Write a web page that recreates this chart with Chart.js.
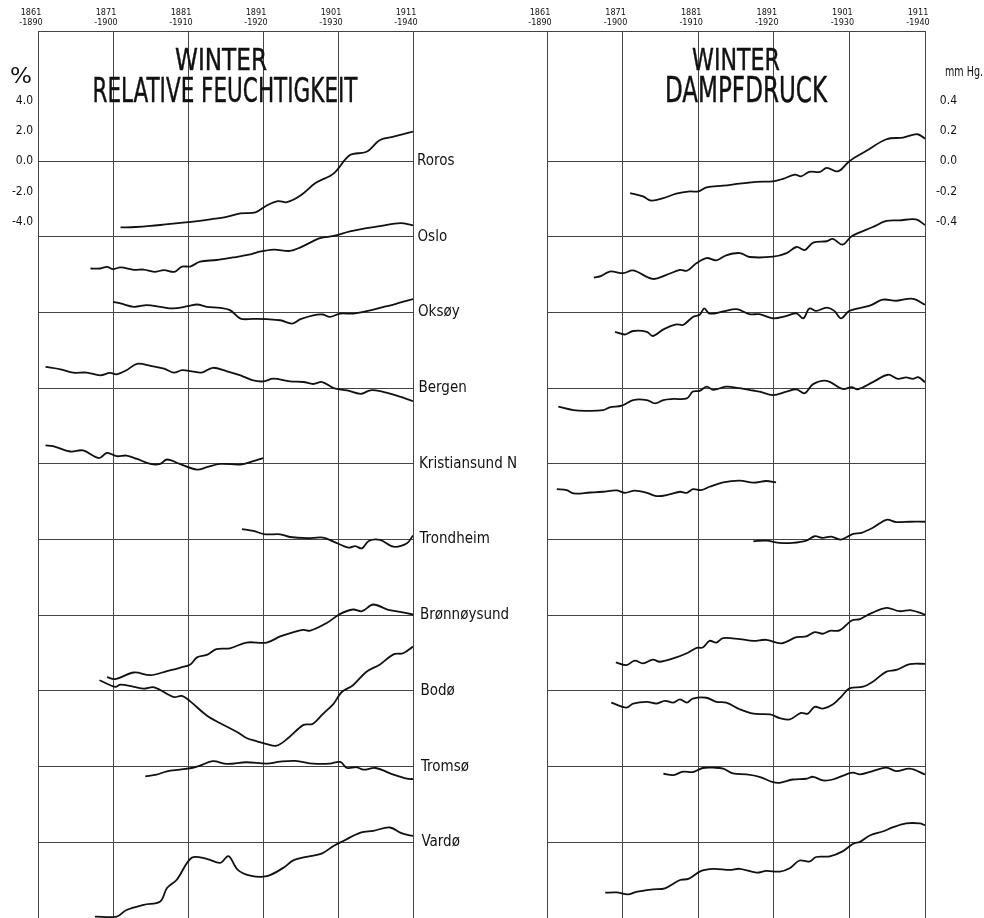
<!DOCTYPE html>
<html>
<head>
<meta charset="utf-8">
<script src="https://cdn.jsdelivr.net/npm/chart.js@4.4.0/dist/chart.umd.min.js"></script>
<style>
  body { margin: 0; background: #fff; }
  #wrap { position: relative; width: 984px; height: 918px; }
  #humChart { position: absolute; left: 0; top: 0; }
  #vapChart { position: absolute; left: 505px; top: 0; }
</style>
</head>
<body>
<div id="wrap">
  <canvas id="humChart" width="545" height="918"></canvas>
  <canvas id="vapChart" width="479" height="918"></canvas>
</div>
<script>
// 30-year running means, first year of each period on the x axis
var periods = [1861, 1871, 1881, 1891, 1901, 1911];
var stations = ['Roros', 'Oslo', 'Oksøy', 'Bergen', 'Kristiansund N', 'Trondheim', 'Brønnøysund', 'Bodø', 'Tromsø', 'Vardø'];
var humTicks = [4, 2, 0, -2, -4];
var vapTicks = [0.4, 0.2, 0, -0.2, -0.4];

// relative humidity deviations (%), [year, value]
var rorosHum = [[1872,-4.38],[1874,-4.35],[1876,-4.28],[1878,-4.18],[1880,-4.08],[1882,-3.98],[1884,-3.84],[1886,-3.7],[1888,-3.45],[1890,-3.38],[1891.5,-2.93],[1893,-2.64],[1894.2,-2.71],[1896,-2.27],[1898,-1.45],[1900.4,-0.82],[1902.6,0.4],[1904.8,0.62],[1906.6,1.4],[1908.4,1.62],[1911,1.95]];
var osloHum = [[1868,-2.09],[1869.3,-2.09],[1870.2,-1.98],[1871,-2.13],[1872,-2.02],[1873.8,-2.18],[1875.1,-2.16],[1876.5,-2.31],[1877.8,-2.2],[1879.2,-2.31],[1880.2,-1.96],[1881.3,-1.96],[1882.6,-1.64],[1884.8,-1.53],[1887,-1.36],[1889.3,-1.16],[1890.2,-1.02],[1892.4,-0.84],[1894.6,-0.93],[1896,-0.69],[1898.6,-0.09],[1900.4,0.06],[1902.6,0.36],[1904.8,0.58],[1906.6,0.71],[1909.3,0.91],[1911,0.76]];
var oksoyHum = [[1871,0.71],[1872,0.6],[1873.8,0.38],[1875.5,0.49],[1877.3,0.38],[1879,0.27],[1881,0.42],[1882.2,0.53],[1883.5,0.38],[1885.3,0.31],[1886.6,0.16],[1888,-0.4],[1889.7,-0.42],[1891.5,-0.44],[1893.3,-0.51],[1894.9,-0.73],[1896,-0.44],[1897.7,-0.18],[1899,-0.13],[1899.9,-0.29],[1901.3,-0.07],[1903,-0.07],[1904.8,0.09],[1906.6,0.31],[1908.4,0.53],[1911,0.89]];
var bergenHum = [[1862,1.41],[1864,1.25],[1865.7,1.03],[1867.5,1.03],[1869.3,0.85],[1870.6,1.01],[1871.5,0.92],[1872.8,1.19],[1874.2,1.61],[1876,1.48],[1877.8,1.3],[1879.1,1.03],[1880.2,1.19],[1881.5,1.12],[1882.8,1.03],[1884.3,1.35],[1886.2,1.12],[1888,0.85],[1889.7,0.52],[1891,0.45],[1892.4,0.63],[1894.6,0.45],[1896.4,0.41],[1897.7,0.28],[1898.9,0.41],[1900.4,0.01],[1902.2,-0.14],[1904,-0.37],[1905.3,-0.14],[1906.6,-0.19],[1908.4,-0.43],[1911,-0.85]];
var kristHum = [[1862,1.22],[1863,1.18],[1865.3,0.82],[1867,0.89],[1869.1,0.38],[1870.2,0.73],[1871.5,0.51],[1872.8,0.55],[1874.2,0.33],[1876,0],[1877.3,0],[1878.2,0.29],[1879.9,0],[1882.2,-0.38],[1883.5,-0.22],[1885.3,0],[1888,-0.04],[1889.7,0.18],[1891,0.38]];
var trondHum = [[1888.2,0.69],[1889.7,0.57],[1891.3,0.35],[1893.3,0.35],[1894.6,0.17],[1896.9,0.09],[1899,0.13],[1900.4,-0.13],[1902.4,-0.53],[1903.3,-0.43],[1904.2,-0.58],[1905.1,-0.09],[1906.6,-0.02],[1908.4,-0.47],[1910.2,-0.24],[1911,0.27]];
var bronnHum = [[1870.2,-4.09],[1871.3,-4.22],[1873.8,-3.78],[1876,-3.96],[1878.2,-3.69],[1879.9,-3.47],[1881.3,-3.25],[1882.2,-2.78],[1883.5,-2.62],[1884.8,-2.24],[1886.6,-2.18],[1888.8,-1.8],[1891.5,-1.8],[1893.3,-1.4],[1895.1,-1.11],[1896.4,-0.96],[1897.3,-1.02],[1899.5,-0.51],[1901.3,0.09],[1903,0.38],[1904.2,0.27],[1905.7,0.71],[1907.6,0.38],[1909.3,0.22],[1911,0.05]];
var bodoHum = [[1869.2,0.71],[1871.3,0.27],[1872,0.42],[1873.8,0.27],[1875.1,0.15],[1876.5,0.24],[1879.1,-0.4],[1880.2,-0.33],[1881.3,-0.69],[1883.5,-1.62],[1885.3,-2.13],[1887.6,-2.73],[1888.8,-3.11],[1890.2,-3.33],[1891.5,-3.51],[1892.8,-3.62],[1894.2,-3.18],[1896.4,-2.24],[1897.6,-2.18],[1899,-1.51],[1900.4,-0.85],[1901.5,-0.07],[1903,0.38],[1904.8,1.27],[1906.6,1.75],[1908.4,2.42],[1909.7,2.49],[1911,2.93]];
var tromsoHum = [[1875.3,-0.64],[1876.8,-0.53],[1878.2,-0.31],[1879.9,-0.2],[1881.5,-0.09],[1882.6,0.07],[1884.3,0.36],[1886.2,0.18],[1888.8,0.29],[1891.5,0.2],[1893.3,0.33],[1895.3,0.38],[1897.7,0.2],[1899.9,0.2],[1901.3,0.31],[1902.2,-0.09],[1903.5,-0.04],[1904.4,-0.2],[1906,-0.09],[1908.4,-0.53],[1910.2,-0.8],[1911,-0.82]];
var vardoHum = [[1868.6,-4.91],[1871.5,-4.91],[1872.8,-4.47],[1875.1,-4.13],[1877.3,-3.91],[1878.2,-3.02],[1879.5,-2.47],[1881.5,-1.02],[1883.5,-1.09],[1885.3,-1.36],[1886.4,-0.91],[1887.6,-1.8],[1889.3,-2.2],[1891.5,-2.24],[1893.7,-1.69],[1895.1,-1.18],[1897.3,-0.91],[1898.9,-0.73],[1900.4,-0.24],[1901.7,0.09],[1904,0.64],[1905.7,0.76],[1907.9,0.98],[1909.3,0.64],[1910.4,0.47],[1911,0.42]];

// vapour pressure deviations (mm Hg), [year, value]
var rorosVap = [[1872,-0.211],[1873.7,-0.233],[1874.8,-0.26],[1876.4,-0.244],[1878.1,-0.215],[1879.9,-0.2],[1881,-0.2],[1882.1,-0.173],[1884.3,-0.162],[1886.5,-0.149],[1888.7,-0.137],[1890.9,-0.133],[1892.2,-0.117],[1893.8,-0.089],[1894.6,-0.1],[1895.7,-0.071],[1897.1,-0.071],[1898,-0.044],[1899.5,-0.067],[1901,0],[1903.2,0.067],[1905.9,0.145],[1908.1,0.156],[1910,0.178],[1911,0.149]];
var osloVap = [[1867.2,-0.269],[1868.2,-0.258],[1869.3,-0.229],[1871.1,-0.24],[1872.4,-0.222],[1875,-0.278],[1876.8,-0.251],[1878.6,-0.218],[1879.5,-0.224],[1880.8,-0.173],[1882.1,-0.14],[1883.4,-0.155],[1884.7,-0.122],[1886.5,-0.107],[1887.8,-0.133],[1890.9,-0.131],[1892.7,-0.107],[1894,-0.067],[1895.1,-0.087],[1896.2,-0.038],[1898,-0.029],[1898.8,-0.013],[1900.1,-0.051],[1901.3,0.004],[1904.1,0.065],[1905.9,0.105],[1907.6,0.109],[1909.8,0.115],[1911,0.078]];
var oksoyVap = [[1870,-0.127],[1871.3,-0.145],[1872.4,-0.122],[1874.2,-0.127],[1875,-0.155],[1876.4,-0.111],[1878.1,-0.078],[1879,-0.082],[1880.3,-0.029],[1881.2,-0.015],[1881.8,0.027],[1882.5,-0.007],[1884.3,0.007],[1886.1,0.022],[1887.8,-0.011],[1889.1,-0.011],[1890.9,-0.038],[1892.7,-0.022],[1894,-0.005],[1894.9,-0.038],[1895.7,0.027],[1896.6,0.011],[1898,0.033],[1899,0.011],[1899.9,-0.038],[1901,0.011],[1903.7,0.045],[1905.4,0.085],[1907.2,0.078],[1908.5,0.089],[1909.6,0.089],[1911,0.051]];
var bergenVap = [[1862.5,-0.122],[1864.5,-0.145],[1866.2,-0.149],[1868.4,-0.145],[1869.3,-0.127],[1870.9,-0.115],[1872.4,-0.078],[1874.2,-0.078],[1875.3,-0.1],[1876.4,-0.078],[1877.7,-0.071],[1879.5,-0.067],[1880.3,-0.022],[1881.2,-0.018],[1882.1,0.011],[1883,-0.011],[1884.7,0.011],[1886.5,0],[1888.3,-0.015],[1889.1,-0.022],[1890.9,-0.045],[1892.7,-0.022],[1894,-0.007],[1895.1,-0.033],[1896.2,0.027],[1898,0.049],[1900.1,-0.005],[1901.3,0.007],[1902.1,-0.007],[1904.1,0.04],[1906.1,0.089],[1907.4,0.062],[1908.5,0.071],[1909.4,0.062],[1910.1,0.073],[1911,0.04]];
var kristVap = [[1862.3,-0.167],[1863.6,-0.173],[1864.5,-0.195],[1866.7,-0.189],[1868.4,-0.184],[1870.2,-0.175],[1871.3,-0.191],[1872.6,-0.177],[1874.2,-0.191],[1875.5,-0.213],[1877.2,-0.202],[1878.6,-0.184],[1879.5,-0.191],[1880.3,-0.167],[1881.4,-0.173],[1882.5,-0.151],[1884.3,-0.122],[1886.5,-0.111],[1888.3,-0.124],[1890,-0.113],[1891.3,-0.122]];
var trondVap = [[1888.3,-0.011],[1890,-0.007],[1891.8,-0.022],[1893.5,-0.022],[1895.3,-0.007],[1896.4,0.022],[1897.5,0.011],[1898.6,0.02],[1899.9,0],[1901.5,0.038],[1902.6,0.045],[1904.1,0.078],[1905.9,0.131],[1907.2,0.116],[1909,0.118],[1911,0.118]];
var bronnVap = [[1870.1,-0.311],[1871.5,-0.329],[1872.6,-0.3],[1873.7,-0.318],[1875,-0.293],[1875.9,-0.307],[1877.7,-0.285],[1879.5,-0.251],[1880.8,-0.215],[1881.6,-0.213],[1882.5,-0.169],[1883.4,-0.18],[1884.3,-0.151],[1886.5,-0.158],[1888.3,-0.169],[1890,-0.162],[1892,-0.185],[1894,-0.145],[1895.3,-0.14],[1896.4,-0.111],[1897.5,-0.122],[1898.4,-0.103],[1899.7,-0.1],[1901.3,-0.034],[1902.4,-0.025],[1903.7,0.009],[1905.9,0.049],[1907.6,0.027],[1909.2,0.033],[1911,0.004]];
var bodoVap = [[1869.5,-0.077],[1871.5,-0.11],[1872.4,-0.083],[1874.2,-0.072],[1875.5,-0.083],[1876.6,-0.065],[1877.7,-0.077],[1878.6,-0.055],[1879.5,-0.077],[1880.3,-0.05],[1882.1,-0.045],[1883.4,-0.072],[1884.7,-0.077],[1886.5,-0.121],[1888.3,-0.15],[1890.5,-0.155],[1891.8,-0.179],[1893.1,-0.188],[1894.6,-0.145],[1895.5,-0.15],[1896.4,-0.105],[1897.5,-0.117],[1898.8,-0.09],[1899.9,-0.039],[1901,0.017],[1902.8,0.028],[1904.1,0.061],[1905.9,0.128],[1907.2,0.139],[1909,0.177],[1911,0.179]];
var tromsoVap = [[1876.4,-0.047],[1877.7,-0.056],[1879,-0.033],[1880.3,-0.036],[1881.6,-0.009],[1883,-0.007],[1884.3,-0.013],[1885.6,-0.045],[1887.4,-0.051],[1889.1,-0.067],[1890.9,-0.103],[1891.8,-0.107],[1893.5,-0.085],[1895.3,-0.08],[1896.2,-0.067],[1897.5,-0.091],[1898.8,-0.085],[1900.6,-0.051],[1901.5,-0.04],[1902.4,-0.051],[1904.1,-0.029],[1905.9,-0.007],[1907.2,-0.029],[1909,-0.013],[1911,-0.051]];
var vardoVap = [[1868.7,-0.333],[1870.2,-0.331],[1871.7,-0.344],[1872.8,-0.327],[1875,-0.311],[1876.6,-0.304],[1878.6,-0.249],[1879.7,-0.242],[1881.4,-0.189],[1883,-0.175],[1885.2,-0.182],[1886.5,-0.175],[1888.7,-0.2],[1890,-0.189],[1891.8,-0.193],[1893.1,-0.171],[1894.4,-0.12],[1895.7,-0.127],[1896.6,-0.097],[1898.4,-0.093],[1900.1,-0.06],[1901.5,-0.009],[1902.4,0.003],[1903.7,0.045],[1905.5,0.073],[1906.8,0.1],[1908.5,0.125],[1910.3,0.125],[1911,0.113]];

var humSeries = [rorosHum, osloHum, oksoyHum, bergenHum, kristHum, trondHum, bronnHum, bodoHum, tromsoHum, vardoHum];
var vapSeries = [rorosVap, osloVap, oksoyVap, bergenVap, kristVap, trondVap, bronnVap, bodoVap, tromsoVap, vardoVap];

var ink = '#111';
var gridInk = '#444';
var tickFont = '"DejaVu Sans Condensed", "DejaVu Sans", sans-serif';

// each station is drawn around its own base line, one step lower than the last
function makeDatasets(series, step) {
    return series.map(function (pts, i) {
        return {
            label: stations[i],
            data: pts.map(function (p) { return { x: p[0], y: p[1] - step * i }; }),
            borderColor: ink,
            borderWidth: 1.8,
            pointRadius: 0,
            tension: 0.35,
            fill: false
        };
    });
}

function baselines(step) {
    return stations.map(function (s, i) { return -step * i; });
}

function drawFitted(ctx, text, cx, baseY, size, width, stroke) {
    ctx.save();
    ctx.font = size + 'px ' + tickFont;
    var w = ctx.measureText(text).width;
    ctx.translate(cx, baseY);
    ctx.scale(width / w, 1);
    ctx.fillStyle = ink;
    ctx.textAlign = 'center';
    ctx.textBaseline = 'alphabetic';
    ctx.fillText(text, 0, 0);
    if (stroke) {
        ctx.strokeStyle = ink;
        ctx.lineWidth = stroke;
        ctx.strokeText(text, 0, 0);
    }
    ctx.restore();
}

function xAxis() {
    return {
        type: 'linear',
        position: 'top',
        min: 1861,
        max: 1911,
        afterBuildTicks: function (scale) {
            scale.ticks = periods.map(function (p) { return { value: p }; });
        },
        afterFit: function (scale) {
            scale.height = 31;
            scale.paddingLeft = 0;
            scale.paddingRight = 0;
        },
        ticks: {
            autoSkip: false,
            maxRotation: 0,
            padding: 3,
            labelOffset: -7,
            color: ink,
            font: { family: tickFont, size: 9, lineHeight: 1.15 },
            callback: function (v) { return [String(v), '-' + (v + 29)]; }
        },
        grid: { color: gridInk, lineWidth: 1, drawTicks: false },
        border: { display: true, color: gridInk, width: 1 }
    };
}

function yAxis(step, labelled, min, max, position, width, align) {
    var lines = baselines(step);
    var all = labelled.concat(lines.filter(function (v) { return labelled.indexOf(v) < 0; }));
    all.sort(function (a, b) { return a - b; });
    return {
        type: 'linear',
        position: position,
        min: min,
        max: max,
        afterBuildTicks: function (scale) {
            scale.ticks = all.map(function (v) { return { value: v }; });
        },
        afterFit: function (scale) {
            scale.width = width;
            scale.paddingTop = 0;
            scale.paddingBottom = 0;
        },
        ticks: {
            padding: 5,
            crossAlign: align,
            color: ink,
            font: { family: tickFont, size: 12 },
            callback: function (v) {
                return labelled.indexOf(v) >= 0 ? v.toFixed(1) : '';
            }
        },
        grid: {
            drawTicks: false,
            lineWidth: 1,
            color: function (c) {
                return c.tick && lines.indexOf(c.tick.value) >= 0 ? gridInk : 'rgba(0,0,0,0)';
            }
        },
        border: { display: true, color: gridInk, width: 1 }
    };
}

var humText = {
    id: 'humText',
    afterDraw: function (chart) {
        var ctx = chart.ctx;
        var area = chart.chartArea;
        var y = chart.scales.y;
        drawFitted(ctx, 'WINTER', 221, 70, 31, 92, 0.4);
        drawFitted(ctx, 'RELATIVE FEUCHTIGKEIT', 225, 102, 33, 265, 0.4);
        drawFitted(ctx, '%', 21, 83, 22, 22, 0);
        ctx.save();
        ctx.fillStyle = ink;
        ctx.font = '15px ' + tickFont;
        ctx.textBaseline = 'middle';
        stations.forEach(function (s, i) {
            ctx.fillText(s, area.right + 4 + i * 0.5, y.getPixelForValue(-5 * i));
        });
        // top border runs on across the gap between the panels
        ctx.strokeStyle = gridInk;
        ctx.lineWidth = 1;
        ctx.beginPath();
        ctx.moveTo(area.right, area.top + 0.5);
        ctx.lineTo(chart.width, area.top + 0.5);
        ctx.stroke();
        ctx.restore();
    }
};

var vapText = {
    id: 'vapText',
    afterDraw: function (chart) {
        var ctx = chart.ctx;
        var area = chart.chartArea;
        drawFitted(ctx, 'WINTER', 231, 70, 31, 88, 0.4);
        drawFitted(ctx, 'DAMPFDRUCK', 241, 102, 35, 162, 0.4);
        drawFitted(ctx, 'mm Hg.', 459, 76, 14, 38, 0);
        ctx.save();
        ctx.strokeStyle = gridInk;
        ctx.lineWidth = 1;
        ctx.beginPath();
        ctx.moveTo(40, area.top + 0.5);
        ctx.lineTo(area.left, area.top + 0.5);
        ctx.stroke();
        ctx.restore();
    }
};

var humChart = new Chart(document.getElementById('humChart'), {
    type: 'line',
    data: { datasets: makeDatasets(humSeries, 5) },
    options: {
        responsive: false,
        animation: false,
        layout: { padding: { left: 0, right: 132, top: 0, bottom: 0 } },
        plugins: { legend: { display: false }, tooltip: { enabled: false } },
        scales: {
            x: xAxis(),
            y: yAxis(5, humTicks, -50, 8.6, 'left', 38, 'near')
        }
    },
    plugins: [humText]
});

var vapChart = new Chart(document.getElementById('vapChart'), {
    type: 'line',
    data: { datasets: makeDatasets(vapSeries, 0.5) },
    options: {
        responsive: false,
        animation: false,
        layout: { padding: { left: 42, right: 27, top: 0, bottom: 0 } },
        plugins: { legend: { display: false }, tooltip: { enabled: false } },
        scales: {
            x: xAxis(),
            y: yAxis(0.5, vapTicks, -5, 0.86, 'right', 32, 'far')
        }
    },
    plugins: [vapText]
});
</script>
</body>
</html>
